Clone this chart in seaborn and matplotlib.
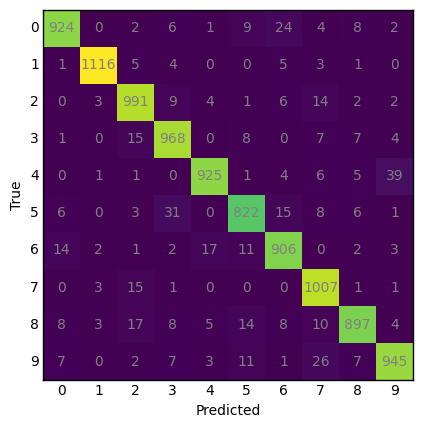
import numpy as np
import pandas as pd
import matplotlib
matplotlib.use("Agg")
import matplotlib.pyplot as plt
import seaborn as sns

labels = ["0", "1", "2", "3", "4", "5", "6", "7", "8", "9"]
row0 = [924, 0, 2, 6, 1, 9, 24, 4, 8, 2]
row1 = [1, 1116, 5, 4, 0, 0, 5, 3, 1, 0]
row2 = [0, 3, 991, 9, 4, 1, 6, 14, 2, 2]
row3 = [1, 0, 15, 968, 0, 8, 0, 7, 7, 4]
row4 = [0, 1, 1, 0, 925, 1, 4, 6, 5, 39]
row5 = [6, 0, 3, 31, 0, 822, 15, 8, 6, 1]
row6 = [14, 2, 1, 2, 17, 11, 906, 0, 2, 3]
row7 = [0, 3, 15, 1, 0, 0, 0, 1007, 1, 1]
row8 = [8, 3, 17, 8, 5, 14, 8, 10, 897, 4]
row9 = [7, 0, 2, 7, 3, 11, 1, 26, 7, 945]

cm = pd.DataFrame([row0, row1, row2, row3, row4, row5, row6, row7, row8, row9],
                  index=labels, columns=labels)

fig = plt.figure(figsize=(4.22, 4.28), dpi=100)
ax = fig.add_axes([0.102, 0.112, 0.877, 0.865])
sns.heatmap(cm, ax=ax, cmap="viridis", annot=True, fmt="d", cbar=False,
            annot_kws={"color": "gray", "fontsize": 10})
for s in ax.spines.values():
    s.set_visible(True)
    s.set_color("black")
    s.set_linewidth(1.0)
ax.tick_params(length=0, labelsize=10, pad=3)
ax.set_yticklabels(labels, rotation=0)
ax.set_xticklabels(labels, rotation=0)
ax.set_xlabel("Predicted", fontsize=10, labelpad=4)
ax.set_ylabel("True", fontsize=10, labelpad=4)
fig.savefig("out.png", dpi=100)
